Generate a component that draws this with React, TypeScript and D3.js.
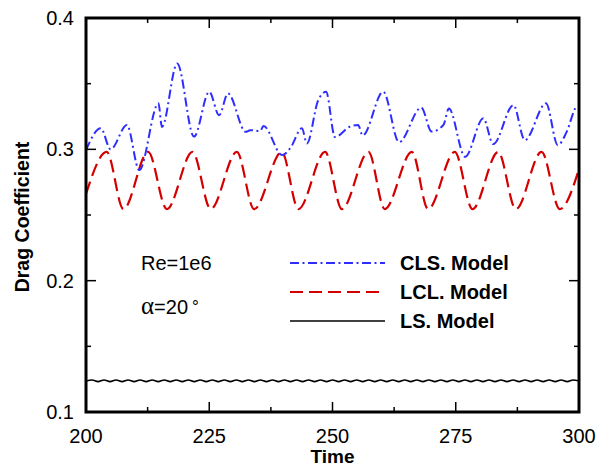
import React from "react";
import * as d3 from "d3";

// ---- data ----
const xTicks = [200, 225, 250, 275, 300];
const xMinorTicks = [212.5, 237.5, 262.5, 287.5];
const yTicks = [0.1, 0.2, 0.3, 0.4];
const yMinorTicks = [0.15, 0.25, 0.35];

// CLS model (blue dash-dot)
const clsTime = [200, 203.0, 205.0, 208.3, 210.8, 214.7, 215.4, 218.5, 221.9, 225.0, 227.0, 228.8, 232.4, 233.3, 235.3, 236.0, 239.8, 241.4, 243.8, 244.8, 247.1, 248.7, 250.5, 253.5, 255.2, 256.1, 260.3, 263.5, 268.0, 270.1, 272.5, 273.6, 276.9, 280.6, 282.6, 286.7, 289.0, 293.3, 295.7, 297.5, 299.5, 300];
const clsValue = [0.2995, 0.316, 0.300, 0.3185, 0.2842, 0.335, 0.317, 0.3654, 0.3097, 0.3438, 0.326, 0.3425, 0.3133, 0.3146, 0.3139, 0.3177, 0.2956, 0.3007, 0.316, 0.3045, 0.3374, 0.3438, 0.3093, 0.3172, 0.3185, 0.3105, 0.3438, 0.3055, 0.3318, 0.3135, 0.3185, 0.331, 0.2943, 0.3236, 0.304, 0.3337, 0.307, 0.335, 0.3032, 0.3133, 0.3323, 0.3328];

// LCL model (red dashed)
const lclTime = [200, 204.2, 207.6, 212.6, 216.4, 221.6, 225.3, 230.6, 234.1, 239.7, 243.1, 248.5, 251.9, 257.3, 260.6, 266.1, 269.4, 274.8, 278.4, 283.6, 287.2, 292.4, 296.1, 300];
const lclValue = [0.266, 0.298, 0.2545, 0.298, 0.2545, 0.298, 0.2545, 0.298, 0.2545, 0.298, 0.2545, 0.298, 0.2545, 0.298, 0.2545, 0.298, 0.2545, 0.298, 0.2545, 0.298, 0.2545, 0.298, 0.2545, 0.285];

// LS model (black solid) – small ripple, extremes every 1.22 time units from t=200
const lsStart = 200;
const lsStep = 1.22;
const lsValue = [
  0.1236, 0.1244, 0.1231, 0.1244, 0.1231, 0.1244, 0.1231, 0.1244, 0.1231, 0.1244,
  0.1231, 0.1244, 0.1231, 0.1244, 0.1231, 0.1244, 0.1231, 0.1244, 0.1231, 0.1244,
  0.1231, 0.1244, 0.1231, 0.1244, 0.1231, 0.1244, 0.1231, 0.1244, 0.1231, 0.1244,
  0.1231, 0.1244, 0.1231, 0.1244, 0.1231, 0.1244, 0.1231, 0.1244, 0.1231, 0.1244,
  0.1231, 0.1244, 0.1231, 0.1244, 0.1231, 0.1244, 0.1231, 0.1244, 0.1231, 0.1244,
  0.1231, 0.1244, 0.1231, 0.1244, 0.1231, 0.1244, 0.1231, 0.1244, 0.1231, 0.1244,
  0.1231, 0.1244, 0.1231, 0.1244, 0.1231, 0.1244, 0.1231, 0.1244, 0.1231, 0.1244,
  0.1231, 0.1244, 0.1231, 0.1244, 0.1231, 0.1244, 0.1231, 0.1244, 0.1231, 0.1244,
  0.1231, 0.1244, 0.1236,
];

const legendLabels = ["CLS. Model", "LCL. Model", "LS. Model"];

// ---- layout ----
const W = 605, H = 470;
const left = 86, right = 579, top = 18, bottom = 412;
const FONT = "'Liberation Sans', Arial, sans-serif";

const x = d3.scaleLinear().domain([200, 300]).range([left, right]);
const y = d3.scaleLinear().domain([0.1, 0.4]).range([bottom, top]);

const line = d3
  .line<[number, number]>()
  .x((d) => x(d[0]))
  .y((d) => y(d[1]))
  .curve(d3.curveMonotoneX);

const zip = (t: number[], v: number[]) => t.map((ti, i) => [ti, v[i]] as [number, number]);

const clsPath = line(zip(clsTime, clsValue)) || "";
const lclPath = line(zip(lclTime, lclValue)) || "";
const lsPath =
  line(lsValue.map((v, i) => [Math.min(300, lsStart + i * lsStep), v] as [number, number])) || "";

const BLUE = "#2e2eff";
const RED = "#d40000";

export default function App() {
  const majorLen = 10;
  const minorLen = 5;
  const legendX0 = 290, legendX1 = 385, legendTextX = 400;
  const legendY = [263, 292, 321];
  const styles = [
    { stroke: BLUE, dash: "9,3.5,2,3.5", w: 2 },
    { stroke: RED, dash: "13,6", w: 2.2 },
    { stroke: "#000", dash: undefined as string | undefined, w: 1.6 },
  ];
  return (
    <svg
      width={W}
      height={H}
      style={{ position: "absolute", left: 0, top: 0, background: "#fff" }}
      fontFamily={FONT}
    >
      <defs>
        <clipPath id="plot">
          <rect x={left} y={top} width={right - left} height={bottom - top} />
        </clipPath>
      </defs>

      {/* series */}
      <g clipPath="url(#plot)" fill="none">
        <path d={lsPath} stroke="#000" strokeWidth={1.6} />
        <path d={lclPath} stroke={RED} strokeWidth={2.2} strokeDasharray="13,6" />
        <path d={clsPath} stroke={BLUE} strokeWidth={2} strokeDasharray="9,3.5,2,3.5" />
      </g>

      {/* ticks */}
      <g stroke="#000" strokeWidth={1.5}>
        {xTicks.map((t) => (
          <g key={"xt" + t}>
            <line x1={x(t)} x2={x(t)} y1={bottom} y2={bottom - majorLen} />
            <line x1={x(t)} x2={x(t)} y1={top} y2={top + majorLen} />
          </g>
        ))}
        {xMinorTicks.map((t) => (
          <g key={"xm" + t}>
            <line x1={x(t)} x2={x(t)} y1={bottom} y2={bottom - minorLen} />
            <line x1={x(t)} x2={x(t)} y1={top} y2={top + minorLen} />
          </g>
        ))}
        {yTicks.map((t) => (
          <g key={"yt" + t}>
            <line x1={left} x2={left + majorLen} y1={y(t)} y2={y(t)} />
            <line x1={right} x2={right - majorLen} y1={y(t)} y2={y(t)} />
          </g>
        ))}
        {yMinorTicks.map((t) => (
          <g key={"ym" + t}>
            <line x1={left} x2={left + minorLen} y1={y(t)} y2={y(t)} />
            <line x1={right} x2={right - minorLen} y1={y(t)} y2={y(t)} />
          </g>
        ))}
      </g>

      {/* frame */}
      <rect
        x={left}
        y={top}
        width={right - left}
        height={bottom - top}
        fill="none"
        stroke="#000"
        strokeWidth={3}
      />

      {/* tick labels */}
      <g fontSize={20} fill="#000">
        {xTicks.map((t) => (
          <text key={"xl" + t} x={x(t)} y={443} textAnchor="middle">
            {t}
          </text>
        ))}
        {yTicks.map((t) => (
          <text key={"yl" + t} x={74} y={y(t) + 7} textAnchor="end">
            {t.toFixed(1)}
          </text>
        ))}
      </g>

      {/* axis titles */}
      <text x={(left + right) / 2} y={463} textAnchor="middle" fontSize={19} fontWeight="bold">
        Time
      </text>
      <text
        transform={`translate(29, ${(top + bottom) / 2 + 2}) rotate(-90)`}
        textAnchor="middle"
        fontSize={19.5}
        fontWeight="bold"
      >
        Drag Coefficient
      </text>

      {/* annotations */}
      <text x={141} y={270} fontSize={20}>
        Re=1e6
      </text>
      <text x={141} y={314} fontSize={20}>
        <tspan fontFamily="'Liberation Serif', serif" fontSize={25}>α</tspan>
        <tspan>=20</tspan>
        <tspan dx={4} fontSize={17} dy={-2}>°</tspan>
      </text>

      {/* legend */}
      {legendLabels.map((lab, i) => (
        <g key={lab}>
          <line
            x1={legendX0}
            x2={legendX1}
            y1={legendY[i]}
            y2={legendY[i]}
            stroke={styles[i].stroke}
            strokeWidth={styles[i].w}
            strokeDasharray={styles[i].dash}
          />
          <text x={legendTextX} y={legendY[i] + 7} fontSize={20} fontWeight="bold">
            {lab}
          </text>
        </g>
      ))}
    </svg>
  );
}
